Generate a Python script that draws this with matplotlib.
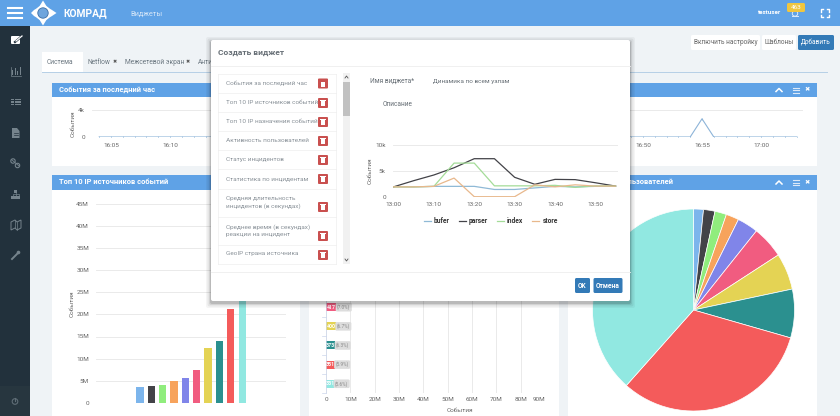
'''
KOMRAD dashboard screenshot with the "create widget" dialog on top
'''

import matplotlib
matplotlib.use('Agg')
import matplotlib.pyplot as plt
from matplotlib.patches import Circle, FancyBboxPatch, Polygon, Rectangle
from matplotlib.ticker import FuncFormatter

plt.rcParams['font.family'] = ['Roboto', 'DejaVu Sans']

W, H = 840, 416

GRID = '#e6e6e6'
TICK = '#666666'
AXIS = '#ccd6eb'
HEADER = '#5fa2e6'
SERIES_COLORS = ['#7cb5ec', '#434348', '#90ed7d', '#f7a35c', '#8085e9',
                 '#f15c80', '#e4d354', '#2b908f', '#f45b5b', '#91e8e1']

# events for the last hour, one value per minute from 16:04
hour_minutes = list(range(64, 124))
hour_values = [0, 0, 0, 0, 0, 0, 0, 0, 0, 0, 0, 0, 0, 0, 0, 0, 0, 0, 0, 0,
               0, 0, 0, 0, 0, 0, 0, 0, 0, 0, 0, 0, 0, 0, 0, 0, 0, 0, 0, 0,
               0, 0, 0, 0, 0, 0, 0, 0, 0, 0, 0, 2700, 0, 0, 0, 0, 0, 0, 0, 0]
hour_ticks = [65, 70, 110, 115, 120]
hour_tick_labels = ['16:05', '16:10', '16:50', '16:55', '17:00']

# top 10 sources, in millions of events
source_values = [3.5, 3.8, 4.0, 4.9, 5.7, 7.5, 12.4, 13.9, 21.2, 25.4]
source_ticks = [0, 5, 10, 15, 20, 25, 30, 35, 40, 45]

# top 10 destinations (the first five are behind the dialog)
dest_values = [9.0, 7.8, 6.5, 5.5, 4.8, 4.17, 4.0, 3.73, 3.51, 3.31]
dest_labels = ['9.00', '7.80', '6.50', '5.50', '4.80', '417', '400', '373', '351', '331']
dest_pills = ['(9.0%)', '(7.8%)', '(6.5%)', '(5.5%)', '(4.8%)', '(7.0%)', '(6.7%)', '(6.3%)', '(5.9%)', '(5.6%)']
dest_ticks = [0, 10, 20, 30, 40, 50, 60, 70, 80, 90]

# user activity shares, in degrees of the pie
activity_values = [5.7, 6.6, 6.7, 7.4, 12.1, 18.5, 21.0, 28.0, 115.6, 138.3]

# dialog preview chart, thousands of events every 5 minutes from 13:00
preview_minutes = [0, 5, 10, 15, 20, 25, 30, 35, 40, 45, 50, 55]
bufer_values = [1.9, 1.9, 2.0, 2.0, 2.0, 1.4, 1.4, 1.7, 2.0, 1.9, 2.0, 2.05]
parser_values = [1.9, 3.1, 4.2, 5.6, 7.35, 7.35, 3.75, 2.4, 3.35, 3.3, 2.7, 2.05]
index_values = [1.9, 1.9, 2.0, 6.5, 6.5, 2.1, 2.1, 2.1, 2.2, 1.8, 2.1, 2.05]
store_values = [1.9, 1.9, 2.0, 3.6, 0, 0, 0, 2.3, 1.9, 2.3, 2.05, 2.05]
preview_ticks = [0, 10, 20, 30, 40, 50]
preview_tick_labels = ['13:00', '13:10', '13:20', '13:30', '13:40', '13:50']

widget_items = ['События за последний час', 'Топ 10 IP источников событий',
                'Топ 10 IP назначения событий', 'Активность пользователей',
                'Статус инцидентов', 'Статистика по инцидентам',
                'Средняя длительность\nинцидентов (в секундах)',
                'Среднее время (в секундах)\nреакции на инцидент',
                'GeoIP страна источника']
item_edges = [73.5, 93, 112, 131, 150, 169, 188.5, 216.5, 244.5, 263.5]
item_buttons = [83.5, 103, 122, 141, 160, 179, 207, 236, 255]


def px_axes(fig, left, top, right, bottom, zorder=1):
    ax = fig.add_axes([left / W, 1 - bottom / H, (right - left) / W, (bottom - top) / H])
    ax.set_zorder(zorder)
    ax.patch.set_visible(False)
    return ax


def overlay(fig, zorder):
    ax = px_axes(fig, 0, 0, W, H, zorder)
    ax.set_xlim(0, W)
    ax.set_ylim(H, 0)
    ax.axis('off')
    return ax


def rect(ax, x0, y0, x1, y1, color, **kw):
    ax.add_patch(Rectangle((x0, y0), x1 - x0, y1 - y0, fc=color, ec='none', **kw))


def rounded(ax, x0, y0, x1, y1, color, pad=1.5, **kw):
    ax.add_patch(FancyBboxPatch((x0 + pad, y0 + pad), x1 - x0 - 2 * pad, y1 - y0 - 2 * pad,
                                boxstyle='round,pad=%g' % pad, fc=color, ec='none', **kw))


def style_chart(ax, size=4.6):
    for name in ['top', 'right', 'left', 'bottom']:
        ax.spines[name].set_visible(False)
    ax.tick_params(axis='both', length=0, labelsize=size, labelcolor=TICK, pad=5)
    ax.set_axisbelow(True)


def draw_panel_header(ax, x0, x1, y0, y1, title='', icons=True):
    # titles and icons that sit behind the dialog are left out
    rect(ax, x0, y0, x1, y1, HEADER)
    mid = (y0 + y1) / 2
    if title:
        ax.text(x0 + 7, mid, title, color='white', fontsize=5.4, fontweight='bold', va='center')
    if icons:
        ax.plot([x1 - 41, x1 - 38, x1 - 35], [mid + 1.5, mid - 1.5, mid + 1.5], color='white', lw=1.1)
        for dy in [-2.5, 0, 2.5]:
            ax.plot([x1 - 24, x1 - 18], [mid + dy, mid + dy], color='#dce9f8', lw=0.8)
        ax.text(x1 - 10, mid, '\u2716', color='white', fontsize=4.6, ha='center', va='center',
                family='DejaVu Sans')


def draw_sidebar_icons(ax):
    gray = '#75838c'
    rect(ax, 0, 386, 30, H, '#27363f')
    # edit
    rounded(ax, 11, 36, 20, 44, 'white', pad=1)
    ax.plot([15, 22], [42, 36], color='#22313c', lw=1.6)
    ax.plot([16, 22], [41, 36], color='white', lw=0.9)
    # bars
    for x, h in zip([12, 14.5, 17, 19.5], [5, 7, 4, 8]):
        rect(ax, x, 75 - h, x + 1.4, 75, gray)
    ax.plot([11, 11, 21], [67, 75.5, 75.5], color=gray, lw=0.5)
    # list
    for y in [99.5, 102, 104.5]:
        rect(ax, 11, y - 0.9, 13.5, y + 0.9, gray)
        rect(ax, 14.5, y - 0.9, 20.5, y + 0.9, gray)
    # file
    ax.add_patch(Polygon([(12, 128), (17, 128), (19.5, 131), (19.5, 138), (12, 138)], fc=gray, ec='none'))
    for y in [133, 135]:
        ax.plot([13.5, 18], [y, y], color='#22313c', lw=0.5)
    # link
    ax.plot([12, 19], [160, 166], color=gray, lw=0.6)
    ax.add_patch(Circle((13, 161), 2.2, fc='none', ec=gray, lw=0.8))
    ax.add_patch(Circle((17.5, 165.5), 2.2, fc='none', ec=gray, lw=0.8))
    # sitemap
    rect(ax, 14, 190, 17, 193, gray)
    for x in [11, 14, 17]:
        rect(ax, x, 196, x + 3, 198.5, gray)
    ax.plot([12.5, 12.5, 18.5, 18.5], [196, 194.3, 194.3, 196], color=gray, lw=0.5)
    ax.plot([15.5, 15.5], [193, 196], color=gray, lw=0.5)
    # map
    ax.add_patch(Polygon([(11, 222), (15, 220), (17, 222), (21, 220), (21, 228), (17, 230),
                          (15, 228), (11, 230)], fc='none', ec=gray, lw=0.7))
    ax.plot([15, 15], [220, 228], color=gray, lw=0.5)
    ax.plot([17, 17], [222, 230], color=gray, lw=0.5)
    # wrench
    ax.plot([12, 18], [259, 253], color=gray, lw=1.4)
    ax.add_patch(Circle((18.5, 252.5), 1.8, fc=gray, ec='none'))
    # power
    ax.add_patch(Circle((15, 401.5), 2.8, fc='none', ec='#5f6d76', lw=0.8))
    ax.plot([15, 15], [397.5, 401], color='#5f6d76', lw=0.8)


def draw_page(fig):
    ax = overlay(fig, 0)
    rect(ax, 0, 0, W, H, '#eff3f6')
    rect(ax, 0, 0, W, 25.5, HEADER)
    rect(ax, 0, 25.5, 30, H, '#22313c')
    draw_sidebar_icons(ax)

    for y in [8, 13, 18]:
        ax.plot([8, 22], [y, y], color='white', lw=1.5)

    # logo
    ax.add_patch(Polygon([(43, 0.5), (47, 7), (52, 10), (56.5, 13), (52, 16), (47, 19), (43, 25.5),
                          (39, 19), (34, 16), (31, 13), (34, 10), (39, 7)], fc='white', ec='none'))
    ax.add_patch(Circle((43, 13), 7.6, fc='white', ec='none'))
    ax.add_patch(Circle((43, 13), 5.2, fc='#6ea5dd', ec='#3c6ea5', lw=0.6))
    ax.text(63, 13, 'КОМРАД', color='white', fontsize=7.4, fontweight='bold', va='center')
    ax.text(130, 14, 'Виджеты', color='#d5e6f8', fontsize=5.3, va='center')

    ax.text(770, 13, 'testuser', color='white', fontsize=4.5, fontweight='bold', va='center', ha='center')
    ax.plot([792, 798], [16, 16], color='#dbe9f8', lw=0.7)
    ax.add_patch(Circle((795, 13.5), 2.7, fc='none', ec='#dbe9f8', lw=0.7))
    rounded(ax, 787, 3, 805, 12, '#f0c63f', pad=1.5)
    ax.text(796, 7.5, '463', color='white', fontsize=4.6, ha='center', va='center')
    for cx, cy, dx, dy in [(820.5, 9, 2.5, 2.5), (829, 9, -2.5, 2.5), (820.5, 17, 2.5, -2.5), (829, 17, -2.5, -2.5)]:
        ax.plot([cx, cx, cx + dx], [cy + dy, cy, cy], color='white', lw=1.0)

    # buttons on the right
    rounded(ax, 691, 35, 760, 50, 'white')
    ax.text(725.5, 42.5, 'Включить настройку', color='#666666', fontsize=4.7, ha='center', va='center')
    rounded(ax, 762, 35, 796, 50, 'white')
    ax.text(779, 42.5, 'Шаблоны', color='#666666', fontsize=4.7, ha='center', va='center')
    rounded(ax, 798, 35, 834, 50, '#337ab7')
    ax.text(816, 42.5, 'Добавить', color='white', fontsize=4.7, ha='center', va='center')

    # tabs
    rect(ax, 42, 52, 83, 72, 'white')
    ax.plot([42, 827], [72.3, 72.3], color='#b6cfe6', lw=0.7)
    ax.text(47, 62, 'Система', color='#6b7780', fontsize=4.8, va='center')
    ax.text(88, 62, 'Netflow', color='#6b7780', fontsize=4.8, va='center')
    ax.text(113, 62, '\u2716', color='#555555', fontsize=3.6, va='center', family='DejaVu Sans')
    ax.text(125, 62, 'Межсетевой экран', color='#6b7780', fontsize=4.8, va='center')
    ax.text(186, 62, '\u2716', color='#555555', fontsize=3.6, va='center', family='DejaVu Sans')
    ax.text(198, 62, 'Анти', color='#6b7780', fontsize=4.8, va='center')

    # panels
    rect(ax, 52, 83, 817, 166, 'white')
    draw_panel_header(ax, 52, 817, 83, 97, 'События за последний час')
    rect(ax, 52, 175, 300, H, 'white')
    draw_panel_header(ax, 52, 300, 175, 190, 'Топ 10 IP источников событий', icons=False)
    rect(ax, 309, 175, 559, H, 'white')
    draw_panel_header(ax, 309, 559, 175, 190, icons=False)
    rect(ax, 568, 175, 817, H, 'white')
    draw_panel_header(ax, 568, 817, 175, 190, 'Активность пользователей')


def draw_hour_chart(fig):
    ax = px_axes(fig, 92, 110, 803, 137)
    ax.plot(hour_minutes, hour_values, color='#8db4d8', lw=0.8, marker='|', ms=1.6, mew=0.4)
    ax.set_xlim(65 - 19 / 11.82, 65 + 692 / 11.82)
    ax.set_ylim(0, 4000)
    style_chart(ax)
    ax.set_xticks(hour_ticks, hour_tick_labels)
    ax.set_yticks([0, 4000], ['0', '4k'])
    ax.tick_params(axis='x', pad=4.5)
    ax.grid(axis='y', color=GRID, lw=0.6)
    ax.set_ylabel('События', fontsize=4.6, color=TICK, labelpad=2)


def draw_source_chart(fig):
    ax = px_axes(fig, 96, 203.5, 286, 403)
    positions = list(range(len(source_values)))
    ax.bar(positions, source_values, width=0.62, color=SERIES_COLORS)
    ax.set_xlim(-3.88, 12.88)
    ax.set_ylim(0, 45)
    style_chart(ax)
    ax.set_xticks([])
    ax.set_yticks(source_ticks)
    ax.yaxis.set_major_formatter(FuncFormatter(lambda v, p: '%dM' % v if v else '0'))
    ax.grid(axis='y', color=GRID, lw=0.6)
    ax.set_ylabel('События', fontsize=4.6, color=TICK, labelpad=1)


def draw_dest_chart(fig):
    ax = px_axes(fig, 326, 202, 545, 393.3)
    positions = list(range(len(dest_values)))
    ax.barh(positions, dest_values, height=0.42, color=SERIES_COLORS)
    ax.set_xlim(0, 90)
    ax.set_ylim(9.5, -0.5)
    style_chart(ax)
    ax.set_xticks(dest_ticks)
    ax.xaxis.set_major_formatter(FuncFormatter(lambda v, p: '%dM' % v if v else '0'))
    ax.tick_params(axis='x', pad=3)
    ax.get_xticklabels()[-1].set_ha('right')
    ax.set_yticks([])
    ax.grid(axis='x', color=GRID, lw=0.6)
    ax.spines['left'].set_visible(True)
    ax.spines['left'].set_color(AXIS)
    ax.spines['left'].set_linewidth(0.5)
    for y in positions:
        ax.plot([-1.6, 0], [y + 0.5, y + 0.5], color=AXIS, lw=0.5, clip_on=False)
        ax.text(dest_values[y] / 2, y, dest_labels[y], color='white', fontsize=3.8,
                fontweight='bold', ha='center', va='center')
        ax.text(dest_values[y] + 0.4, y, dest_pills[y], color='#888888', fontsize=3.4,
                ha='left', va='center',
                bbox=dict(boxstyle='round,pad=0.3', fc='#dddddd', ec='none'))
    ax.set_xlabel('События', fontsize=4.6, color=TICK)
    ax.xaxis.set_label_coords(0.612, -0.078)


def draw_activity_pie(fig):
    ax = px_axes(fig, 592.5, 209, 794.5, 411)
    ax.pie(activity_values, colors=SERIES_COLORS, startangle=90, counterclock=False,
           wedgeprops=dict(edgecolor='white', linewidth=0.5), radius=1)
    ax.set_xlim(-1, 1)
    ax.set_ylim(-1, 1)


def draw_dialog(fig):
    ax = overlay(fig, 3)
    for grow, alpha in [(5, 0.04), (3.5, 0.06), (2, 0.08), (1, 0.12)]:
        rounded(ax, 211 - grow, 40 - grow + 2, 630 + grow, 301 + grow + 2, 'black', pad=2, alpha=alpha)
    rounded(ax, 211, 40, 630, 301, 'white', pad=2)
    ax.text(218, 53, 'Создать виджет', color='#666e75', fontsize=6.0, fontweight='bold', va='center')
    ax.plot([211, 630], [66, 66], color='#eeeeee', lw=0.6)
    ax.plot([211, 630], [271.5, 271.5], color='#eeeeee', lw=0.6)

    # widget list
    for y in item_edges:
        ax.plot([218, 336], [y, y], color='#eeeeee', lw=0.5)
    ax.plot([218, 218], [item_edges[0], item_edges[-1]], color='#eeeeee', lw=0.5)
    ax.plot([336, 336], [item_edges[0], item_edges[-1]], color='#eeeeee', lw=0.5)
    for i, item in enumerate(widget_items):
        mid = (item_edges[i] + item_edges[i + 1]) / 2
        ax.text(226, mid, item, color='#8a9299', fontsize=4.55, va='center', linespacing=1.5)
        btn = item_buttons[i]
        rounded(ax, 318, btn - 5, 328, btn + 5, '#c9504f', pad=1)
        rect(ax, 321, btn - 2, 325, btn + 3, 'white')
        rect(ax, 320.3, btn - 3, 325.7, btn - 2.2, 'white')

    # scrollbar
    rect(ax, 343, 73, 350, 264, '#f1f1f1')
    rect(ax, 343, 82, 350, 116, '#c1c1c1')
    ax.plot([345, 346.5, 348], [78, 76, 78], color='#555555', lw=0.6)
    ax.plot([345, 346.5, 348], [259, 261, 259], color='#555555', lw=0.6)

    ax.text(370, 81, 'Имя виджета*', color='#666e75', fontsize=4.7, va='center')
    ax.text(433, 81, 'Динамика по всем узлам', color='#666e75', fontsize=4.6, va='center')
    ax.text(383, 104, 'Описание', color='#666e75', fontsize=4.7, va='center')

    rounded(ax, 575, 278, 590, 293, '#337ab7')
    ax.text(582.5, 285.5, 'OK', color='white', fontsize=4.8, fontweight='bold', ha='center', va='center')
    rounded(ax, 593.5, 278, 622.5, 293, '#337ab7')
    ax.text(608, 285.5, 'Отмена', color='white', fontsize=4.8, fontweight='bold', ha='center', va='center')


def draw_preview_chart(fig):
    ax = px_axes(fig, 392.7, 145, 618, 196.7, 4)
    ax.plot(preview_minutes, bufer_values, color='#8fb9d6', lw=0.9, label='bufer')
    ax.plot(preview_minutes, parser_values, color='#434348', lw=0.9, label='parser')
    ax.plot(preview_minutes, index_values, color='#a4dc98', lw=0.9, label='index')
    ax.plot(preview_minutes, store_values, color='#e8b88c', lw=0.9, label='store')
    ax.set_xlim(-0.2, 55.6)
    ax.set_ylim(0, 10)
    style_chart(ax)
    ax.set_xticks(preview_ticks, preview_tick_labels)
    ax.set_yticks([0, 5, 10], ['0', '5k', '10k'])
    ax.tick_params(axis='x', pad=4)
    ax.grid(axis='y', color=GRID, lw=0.6)
    ax.set_ylabel('События', fontsize=4.6, color=TICK, labelpad=2)
    ax.legend(loc='upper center', bbox_to_anchor=(0.436, -0.35), ncol=4, frameon=False,
              handlelength=1.05, handletextpad=0.45, columnspacing=1.35, borderaxespad=0,
              prop=dict(size=4.8, weight='bold'), labelcolor='#333333')


def main():
    fig = plt.figure(figsize=(W / 100, H / 100), dpi=100)
    draw_page(fig)
    draw_hour_chart(fig)
    draw_source_chart(fig)
    draw_dest_chart(fig)
    draw_activity_pie(fig)
    draw_dialog(fig)
    draw_preview_chart(fig)
    fig.savefig('out.png', dpi=100)


if __name__ == '__main__':
    main()
